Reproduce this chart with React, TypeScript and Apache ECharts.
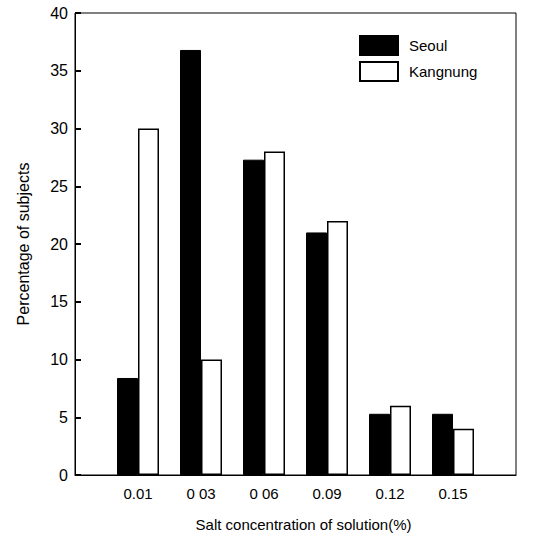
import React, { useEffect, useRef } from "react";
import * as echarts from "echarts";

const categories = ["", "0.01", "0 03", "0 06", "0.09", "0.12", "0.15", ""];
const seoul = [null, 8.4, 36.8, 27.3, 21, 5.3, 5.3, null];
const kangnung = [null, 30, 10, 28, 22, 6, 4, null];
const yTicks = { min: 0, max: 40, interval: 5 };

export default function App() {
  const ref = useRef<HTMLDivElement>(null);
  useEffect(() => {
    const chart = echarts.init(ref.current!, null, { renderer: "svg" });
    const font = "Liberation Sans, Arial, sans-serif";
    chart.setOption({
      animation: false,
      backgroundColor: "#fff",
      grid: {
        left: 75,
        right: 28,
        top: 13,
        bottom: 66,
        show: true,
        borderColor: "#000",
        borderWidth: 1,
        backgroundColor: "transparent",
      },
      legend: {
        orient: "vertical",
        left: 359,
        top: 35,
        padding: 0,
        icon: "rect",
        itemWidth: 38,
        itemHeight: 19,
        itemGap: 5,
        textStyle: { fontFamily: font, fontSize: 15, color: "#000", padding: [0, 0, 0, 6] },
        data: ["Seoul", "Kangnung"],
      },
      xAxis: {
        type: "category",
        data: categories,
        boundaryGap: false,
        axisLine: { show: true, lineStyle: { color: "#000", width: 1 } },
        axisTick: { show: false },
        axisLabel: { fontFamily: font, fontSize: 15, color: "#000", margin: 11, interval: 0 },
        name: "Salt concentration of solution(%)",
        nameLocation: "middle",
        nameGap: 42,
        nameTextStyle: { fontFamily: font, fontSize: 15, color: "#000", padding: [0, 0, 0, 16] },
      },
      yAxis: {
        type: "value",
        min: yTicks.min,
        max: yTicks.max,
        interval: yTicks.interval,
        axisLine: { show: true, lineStyle: { color: "#000", width: 1 } },
        axisTick: { show: true, inside: true, length: 6, lineStyle: { color: "#000", width: 2 } },
        splitLine: { show: false },
        axisLabel: { fontFamily: font, fontSize: 16, color: "#000", margin: 7 },
        name: "Percentage of subjects",
        nameLocation: "middle",
        nameGap: 44,
        nameRotate: 90,
        nameTextStyle: { fontFamily: font, fontSize: 16, color: "#000" },
      },
      series: [
        {
          name: "Seoul",
          type: "bar",
          data: seoul,
          barWidth: 21,
          barGap: "0%",
          itemStyle: { color: "#000", borderColor: "#000", borderWidth: 1 },
        },
        {
          name: "Kangnung",
          type: "bar",
          data: kangnung,
          barWidth: 21,
          barGap: "0%",
          itemStyle: { color: "#fff", borderColor: "#000", borderWidth: 1.5 },
        },
      ],
    });
    return () => chart.dispose();
  }, []);
  return <div ref={ref} style={{ width: 544, height: 541, position: "absolute", left: 0, top: 0 }} />;
}
